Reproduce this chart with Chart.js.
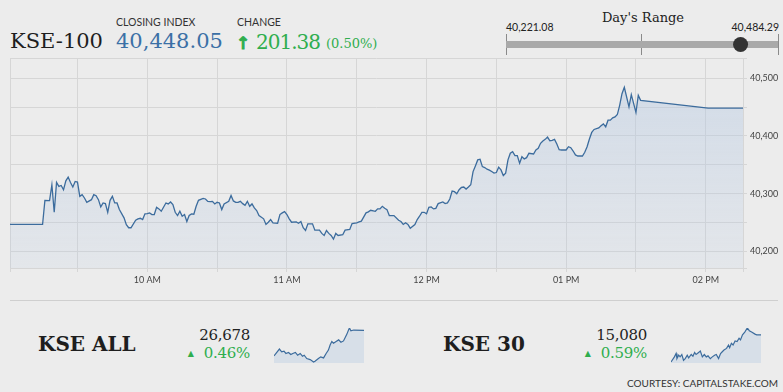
<!DOCTYPE html>
<html>
<head>
<meta charset="utf-8">
<script src="https://cdn.jsdelivr.net/npm/chart.js@4/dist/chart.umd.min.js"></script>
<style>
  html, body { margin: 0; padding: 0; }
  body { width: 783px; height: 392px; background: #ececec; position: relative; overflow: hidden; font-family: Lato, sans-serif; color: #222; }
  .abs { position: absolute; white-space: nowrap; line-height: 1; }
  .serif { font-family: 'DejaVu Serif', serif; }
  .lbl { font-size: 10.5px; color: #333; }
  .big { font-size: 21px; }
  .blue { color: #3b70a6; }
  .green { color: #2fae4e; }
  .name { font-size: 20px; font-weight: bold; color: #1e1e1e; }
  .val { font-size: 15px; color: #222; text-align: right; letter-spacing: -0.3px; }
  .pct { font-size: 15px; text-align: right; letter-spacing: -0.3px; }
  .pct .tri { font-size: 8px; margin-right: 10px; vertical-align: 2px; letter-spacing: 0; }
  canvas { position: absolute; }
</style>
</head>
<body>
<!-- header -->
<div class="abs serif big" style="left:10px;top:31px;color:#1e1e1e">KSE-100</div>
<div class="abs lbl" style="left:116px;top:17px">CLOSING INDEX</div>
<div class="abs serif big blue" style="left:116px;top:31px">40,448.05</div>
<div class="abs lbl" style="left:237px;top:17px">CHANGE</div>
<div class="abs green" style="left:236px;top:33px;font:bold 17px 'DejaVu Sans';-webkit-text-stroke:0.8px #2fae4e">&#8593;</div>
<div class="abs serif green" style="left:256px;top:32px;font-size:20px;letter-spacing:-1px">201.38</div>
<div class="abs serif green" style="left:326px;top:37px;font-size:13px">(0.50%)</div>

<div class="abs serif" style="left:560px;width:166px;text-align:center;top:11px;font-size:13px;color:#222">Day's Range</div>
<div class="abs lbl" style="left:506px;top:22px;color:#222">40,221.08</div>
<div class="abs lbl" style="right:4px;top:22px;color:#222">40,484.29</div>
<canvas id="range" width="287" height="21" style="left:496px;top:34px"></canvas>

<canvas id="main" width="783" height="245" style="left:0;top:50px"></canvas>

<div class="abs" style="left:10px;top:300px;width:768px;height:1px;background:#cfcfcf"></div>

<!-- bottom indices -->
<div class="abs serif name" style="left:38px;top:334px">KSE ALL</div>
<div class="abs serif val" style="right:533px;top:328px">26,678</div>
<div class="abs serif pct green" style="right:533px;top:346px"><span class="tri">&#9650;</span>0.46%</div>
<canvas id="sparkAll" width="90" height="35" style="left:274px;top:328px"></canvas>

<div class="abs serif name" style="left:443px;top:334px">KSE 30</div>
<div class="abs serif val" style="right:136px;top:328px">15,080</div>
<div class="abs serif pct green" style="right:136px;top:346px"><span class="tri">&#9650;</span>0.59%</div>
<canvas id="spark30" width="90" height="35" style="left:671px;top:328px"></canvas>

<div class="abs" style="right:5px;top:378px;font-size:10px;color:#333">COURTESY: CAPITALSTAKE.COM</div>

<script>
/* KSE-100 intraday */
const COLORS = {
  line: '#3c6c9d', grid: '#d6d6d6', tick: '#444', bar: '#a9a9a9', dot: '#333',
  spark: '#d7dfe8',
};

const dayLow = 40221.08;
const dayHigh = 40484.29;
const closeIndex = 40448.05;

// minutes after 09:00
const sessionStart = 1;
const sessionEnd = 316;
const hourTicks = [60, 120, 180, 240, 300];
const hourLabels = ['10 AM', '11 AM', '12 PM', '01 PM', '02 PM'];

const kse100Minutes = [
  1, 15, 16, 18, 19, 20, 21, 22, 23, 24, 25, 26, 27, 28, 29, 30, 31, 32, 33, 34,
  36, 37, 38, 39, 40, 41, 42, 43, 44, 45, 46, 47, 48, 50, 51, 52, 53, 55, 56, 57,
  58, 59, 60, 61, 62, 63, 64, 65, 66, 68, 69, 70, 71, 72, 73, 74, 75, 76, 77, 78,
  79, 80, 81, 82, 84, 85, 86, 87, 88, 89, 90, 91, 92, 93, 95, 96, 97, 98, 99, 100,
  101, 102, 103, 104, 105, 106, 107, 108, 110, 111, 112, 113, 114, 116, 117, 118, 119, 120, 121, 122,
  124, 125, 126, 127, 128, 129, 131, 132, 134, 135, 136, 137, 138, 139, 140, 141, 142, 144, 145, 147,
  148, 150, 151, 152, 154, 155, 156, 158, 159, 160, 161, 162, 163, 164, 166, 168, 169, 170, 171, 172,
  173, 175, 176, 177, 178, 179, 180, 181, 182, 183, 184, 185, 187, 188, 189, 190, 191, 192, 193, 194,
  195, 196, 197, 198, 199, 200, 201, 202, 203, 204, 205, 206, 207, 208, 209, 210, 211, 212, 213, 214,
  215, 216, 217, 218, 219, 220, 221, 222, 223, 224, 226, 227, 228, 229, 230, 231, 232, 233, 234, 235,
  236, 237, 238, 240, 241, 242, 243, 244, 245, 247, 248, 249, 250, 251, 252, 254, 255, 256, 257, 258,
  259, 260, 261, 262, 263, 264, 265, 267, 268, 270, 271, 272, 301, 316,
];
const kse100Values = [
  40246.67, 40246.67, 40288.3, 40288.0, 40315.3, 40267.6, 40319.3, 40312.4, 40314.1, 40306.7,
  40322.2, 40328.6, 40319.3, 40311.4, 40321.1, 40320.0, 40295.2, 40298.1, 40292.4, 40284.9,
  40289.5, 40298.1, 40296.4, 40289.5, 40276.9, 40283.8, 40282.6, 40267.6, 40288.3, 40295.2,
  40283.8, 40283.8, 40272.3, 40258.0, 40246.0, 40240.8, 40240.8, 40253.9, 40256.3, 40257.3,
  40255.1, 40264.9, 40265.4, 40266.6, 40263.7, 40263.7, 40276.2, 40273.5, 40269.4, 40283.8,
  40282.1, 40285.5, 40280.9, 40267.6, 40262.0, 40269.4, 40260.8, 40263.7, 40251.6, 40262.0,
  40264.9, 40264.2, 40278.0, 40288.3, 40291.7, 40290.7, 40286.6, 40286.1, 40286.6, 40282.1,
  40284.9, 40283.8, 40272.3, 40282.1, 40286.6, 40296.9, 40287.3, 40284.9, 40284.9, 40286.6,
  40282.6, 40279.7, 40286.6, 40278.0, 40282.1, 40275.2, 40270.6, 40262.0, 40256.3, 40246.5,
  40250.4, 40255.1, 40249.4, 40248.7, 40263.7, 40266.6, 40268.8, 40263.7, 40256.3, 40250.4,
  40251.1, 40248.7, 40251.6, 40240.8, 40236.1, 40247.7, 40247.7, 40236.7, 40236.7, 40231.0,
  40227.5, 40236.1, 40231.0, 40227.5, 40221.08, 40231.0, 40227.5, 40228.7, 40236.7, 40237.9,
  40248.2, 40249.4, 40251.1, 40252.2, 40266.6, 40268.3, 40271.1, 40269.4, 40273.5, 40273.5,
  40278.0, 40274.5, 40272.3, 40262.0, 40262.0, 40253.9, 40251.6, 40246.5, 40249.4, 40246.5,
  40240.1, 40246.5, 40255.1, 40260.8, 40267.6, 40267.6, 40264.9, 40276.2, 40276.9, 40273.5,
  40274.5, 40282.6, 40285.5, 40282.6, 40283.8, 40290.7, 40304.5, 40303.3, 40299.8, 40306.7,
  40310.7, 40311.4, 40307.9, 40311.4, 40315.3, 40338.2, 40348.0, 40358.4, 40359.6, 40346.8,
  40345.1, 40342.3, 40340.6, 40338.2, 40335.5, 40336.5, 40345.8, 40341.1, 40331.3, 40335.5,
  40358.4, 40369.9, 40372.6, 40365.8, 40365.8, 40352.7, 40364.0, 40360.1, 40362.3, 40369.9,
  40368.7, 40375.6, 40378.5, 40387.1, 40391.1, 40394.0, 40397.9, 40391.6, 40392.3, 40394.0,
  40385.9, 40376.1, 40375.6, 40375.6, 40381.2, 40379.5, 40373.8, 40367.0, 40365.2, 40365.2,
  40371.6, 40381.2, 40394.5, 40406.0, 40411.2, 40413.9, 40417.4, 40420.8, 40415.7, 40427.2,
  40427.2, 40431.2, 40432.9, 40437.0, 40453.0, 40473.2, 40484.29, 40450.1, 40471.4, 40440.5,
  40470.2, 40461.6, 40448.05, 40448.05,
];

const kseAllMinutes = [
  0, 19, 27, 35, 42, 51, 59, 66, 75, 83, 92, 100, 106, 115, 127, 139, 144, 156, 164, 174,
  183, 191, 197, 203, 209, 218, 227, 235, 244, 250, 256, 262, 265, 270, 280, 316,
];
const kseAllValues = [
  26550.6, 26584.6, 26571.0, 26574.4, 26562.5, 26567.6, 26557.4, 26562.5, 26567.6, 26554.0,
  26562.5, 26548.9, 26554.0, 26537.0, 26531.9, 26520.0, 26523.4, 26537.0, 26545.5, 26540.4,
  26562.5, 26579.5, 26605.0, 26622.0, 26613.5, 26622.0, 26630.5, 26618.6, 26625.4, 26642.4,
  26659.4, 26681.5, 26690.0, 26676.4, 26679.8, 26678.0,
];

const kse30Minutes = [
  0, 12, 18, 21, 27, 32, 38, 44, 50, 57, 62, 71, 77, 83, 88, 97, 103, 110, 117, 124,
  130, 138, 145, 153, 159, 167, 174, 180, 186, 195, 202, 206, 212, 218, 225, 232, 239, 244, 251, 259,
  268, 275, 283, 295, 301, 316,
];
const kse30Values = [
  15040.0, 15047.5, 15052.5, 15045.0, 15050.0, 15047.5, 15051.0, 15042.5, 15045.0, 15050.0,
  15046.0, 15051.0, 15048.5, 15054.0, 15051.0, 15054.0, 15056.0, 15047.5, 15051.0, 15047.5,
  15049.0, 15045.0, 15047.5, 15050.0, 15051.0, 15045.0, 15052.5, 15055.0, 15057.5, 15060.0,
  15065.0, 15061.0, 15067.5, 15065.0, 15071.0, 15070.0, 15075.0, 15072.5, 15080.0, 15084.0,
  15090.0, 15086.0, 15084.0, 15081.0, 15080.0, 15080.0,
];

Chart.defaults.font.family = 'Lato, sans-serif';

function toPoints(xs, ys) { return xs.map((x, i) => ({ x, y: ys[i] })); }

// bounds + every multiple of step in between
function gridValues(min, max, step) {
  const out = [min];
  for (let v = Math.ceil(min / step) * step; v < max; v += step) if (v > min) out.push(v);
  out.push(max);
  return out.map(value => ({ value }));
}

function areaFill(c) {
  const { ctx, chartArea } = c.chart;
  if (!chartArea) return null;
  const g = ctx.createLinearGradient(0, chartArea.top, 0, chartArea.bottom);
  g.addColorStop(0, 'rgba(180,200,226,0.5)');
  g.addColorStop(1, 'rgba(180,200,226,0.15)');
  return g;
}

function renderMain() {
  const ctx = document.getElementById('main');
  const yMin = dayLow - 50, yMax = dayHigh + 50;
  return new Chart(ctx, {
    type: 'line',
    data: {
      datasets: [{
        data: toPoints(kse100Minutes, kse100Values),
        borderColor: COLORS.line, borderWidth: 1.3, pointRadius: 0, tension: 0,
        fill: 'start', backgroundColor: areaFill,
      }]
    },
    options: {
      responsive: false, animation: false, events: [],
      layout: { autoPadding: false, padding: { left: 10, top: 7, right: 0, bottom: 0 } },
      plugins: { legend: { display: false }, tooltip: { enabled: false } },
      scales: {
        x: {
          type: 'linear', min: sessionStart, max: sessionEnd,
          afterBuildTicks: s => { s.ticks = gridValues(sessionStart, sessionEnd, 30); },
          afterFit: s => { s.height = 27; },
          grid: { color: COLORS.grid, tickLength: 4 },
          border: { color: COLORS.grid },
          ticks: {
            autoSkip: false, maxRotation: 0, padding: 3, color: COLORS.tick, font: { size: 9 },
            callback: v => { const i = hourTicks.indexOf(v); return i < 0 ? '' : hourLabels[i]; },
          },
        },
        y: {
          position: 'right', min: yMin, max: yMax,
          afterBuildTicks: s => { s.ticks = gridValues(yMin, yMax, 50); },
          afterFit: s => { s.width = 40; },
          grid: { color: COLORS.grid, tickLength: 4 },
          border: { color: COLORS.grid },
          ticks: {
            padding: 3, color: COLORS.tick, font: { size: 9 },
            callback: v => (v % 100 === 0 ? v.toLocaleString('en-US') : ''),
          },
        },
      },
    }
  });
}

function renderRange() {
  const ctx = document.getElementById('range');
  return new Chart(ctx, {
    type: 'scatter',
    data: {
      datasets: [
        { type: 'line', data: [{ x: dayLow, y: 0 }, { x: dayHigh, y: 0 }], borderColor: COLORS.bar,
          borderWidth: 7, borderCapStyle: 'butt', pointRadius: 0, order: 2 },
        { data: [{ x: closeIndex, y: 0 }], backgroundColor: COLORS.dot, borderWidth: 0, pointRadius: 7.5, order: 1 },
      ]
    },
    options: {
      responsive: false, animation: false, events: [],
      layout: { autoPadding: false, padding: { left: 10, right: 5, top: 0, bottom: 0 } },
      plugins: { legend: { display: false }, tooltip: { enabled: false } },
      scales: {
        x: {
          type: 'linear', min: dayLow, max: dayHigh, z: 1,
          afterBuildTicks: s => { s.ticks = [dayLow, (dayLow + dayHigh) / 2, dayHigh].map(value => ({ value })); },
          afterFit: s => { s.height = 0; },
          ticks: { display: false }, grid: { color: '#8a8a8a', drawTicks: false }, border: { display: false },
        },
        y: { display: false, min: -1, max: 1 },
      },
    }
  });
}

function renderSpark(elementId, minutes, values) {
  const ctx = document.getElementById(elementId);
  const lo = Math.min(...values), hi = Math.max(...values);
  return new Chart(ctx, {
    type: 'line',
    data: {
      datasets: [{
        data: toPoints(minutes, values),
        borderColor: COLORS.line, borderWidth: 1.2, pointRadius: 0, tension: 0,
        fill: 'start', backgroundColor: COLORS.spark,
      }]
    },
    options: {
      responsive: false, animation: false, events: [],
      layout: { autoPadding: false, padding: 0 },
      plugins: { legend: { display: false }, tooltip: { enabled: false } },
      scales: {
        x: { type: 'linear', display: false, min: minutes[0], max: minutes[minutes.length - 1] },
        y: { display: false, min: lo - (hi - lo) * 0.03, max: hi },
      },
    }
  });
}

renderMain();
renderRange();
renderSpark('sparkAll', kseAllMinutes, kseAllValues);
renderSpark('spark30', kse30Minutes, kse30Values);
</script>
</body>
</html>
